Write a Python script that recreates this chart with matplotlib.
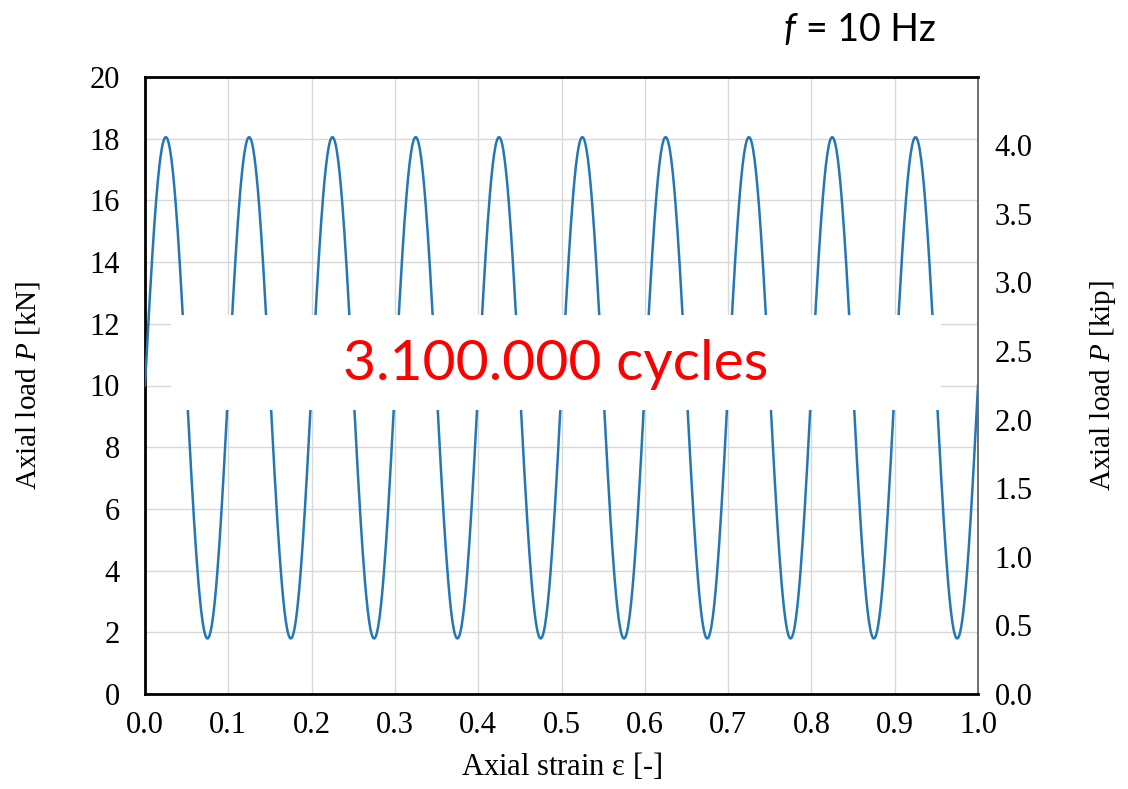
import matplotlib.pyplot as plt
import matplotlib.patches as patches
import numpy as np

# ---- data ----
x_start, y_start = 0.0, 10.0        # curve starts at mid load
x_end, y_end = 1.0, 10.0
peak_strain = [0.025, 0.125, 0.225, 0.325, 0.425, 0.525, 0.625, 0.725, 0.825, 0.925]
peak_load = [18.05, 18.05, 18.05, 18.05, 18.05, 18.05, 18.05, 18.05, 18.05, 18.05]
trough_strain = [0.075, 0.175, 0.275, 0.375, 0.475, 0.575, 0.675, 0.775, 0.875, 0.975]
trough_load = [1.8, 1.8, 1.8, 1.8, 1.8, 1.8, 1.8, 1.8, 1.8, 1.8]

x_ticks = [0.0, 0.1, 0.2, 0.3, 0.4, 0.5, 0.6, 0.7, 0.8, 0.9, 1.0]
y_ticks = [0, 2, 4, 6, 8, 10, 12, 14, 16, 18, 20]
kip_ticks = [0.0, 0.5, 1.0, 1.5, 2.0, 2.5, 3.0, 3.5, 4.0]
KN_PER_KIP = 4.448

serif = 'Liberation Serif'
plt.rcParams['mathtext.fontset'] = 'custom'
plt.rcParams['mathtext.rm'] = serif
plt.rcParams['mathtext.it'] = serif + ':italic'

# extrema in order, joined by half-cosine segments (sinusoidal load)
xs = [x_start]
ys = [y_start]
for a, b, c, d in zip(peak_strain, peak_load, trough_strain, trough_load):
    xs += [a, c]
    ys += [b, d]
xs.append(x_end)
ys.append(y_end)

cx, cy = [], []
for i in range(len(xs) - 1):
    # first / last piece is only a quarter wave
    if i == 0:
        t = np.linspace(0, 1, 40)
        cx.append(xs[0] + (xs[1] - xs[0]) * t)
        cy.append(ys[0] + (ys[1] - ys[0]) * np.sin(t * np.pi / 2))
    elif i == len(xs) - 2:
        t = np.linspace(0, 1, 40)
        cx.append(xs[i] + (xs[i + 1] - xs[i]) * t)
        cy.append(ys[i] + (ys[i + 1] - ys[i]) * (1 - np.cos(t * np.pi / 2)))
    else:
        t = np.linspace(0, 1, 60)
        cx.append(xs[i] + (xs[i + 1] - xs[i]) * t)
        cy.append(ys[i] + (ys[i + 1] - ys[i]) * (1 - np.cos(t * np.pi)) / 2)
cx = np.concatenate(cx)
cy = np.concatenate(cy)

# ---- figure ----
fig = plt.figure(figsize=(11.28, 7.89), dpi=100)
ax = fig.add_axes([145 / 1128, 95 / 789, (978 - 145) / 1128, (694 - 77) / 789])

ax.plot(cx, cy, color='#2477b5', lw=1.8, zorder=3)

ax.set_xlim(0, 1.0)
ax.set_ylim(0, 20)
ax.set_xticks(x_ticks)
ax.set_yticks(y_ticks)
ax.set_xticklabels([f'{v:.1f}' for v in x_ticks], fontfamily=serif, fontsize=22)
ax.set_yticklabels([str(v) for v in y_ticks], fontfamily=serif, fontsize=22)
ax.tick_params(axis='x', length=0, pad=12)
ax.tick_params(axis='y', length=0, pad=18)
ax.grid(True, color='#d8d8d8', lw=1.0)
for s in ax.spines.values():
    s.set_color('black')
    s.set_linewidth(2.0)
ax.spines['right'].set_color('#555555')
ax.spines['right'].set_linewidth(1.2)

ax.set_xlabel(r'Axial strain $\mathregular{\varepsilon}$ [-]', fontfamily=serif, fontsize=22, labelpad=8)
ax.set_ylabel('Axial load $\\mathit{P}$ [kN]', fontfamily=serif, fontsize=21, labelpad=34)

ax2 = ax.twinx()
ax2.set_ylim(0, 20 / KN_PER_KIP)
ax2.set_yticks(kip_ticks)
ax2.set_yticklabels([f'{v:.1f}' for v in kip_ticks], fontfamily=serif, fontsize=22)
ax2.tick_params(length=0, pad=12)
ax2.set_ylabel('Axial load $\\mathit{P}$ [kip]', fontfamily=serif, fontsize=21, labelpad=40)
for s in ax2.spines.values():
    s.set_visible(False)

# white box with cycle count
box = patches.Rectangle((171 / 1128, 1 - 410 / 789), (941 - 171) / 1128, (410 - 315) / 789,
                        transform=fig.transFigure, facecolor='white', edgecolor='none', zorder=5)
fig.patches.append(box)
fig.text(556 / 1128, 1 - 365 / 789, '3.100.000 cycles', color='#ff0000', fontsize=41,
         fontfamily='Lato', ha='center', va='center', zorder=6)

fig.text(783 / 1128, 1 - 30 / 789, 'f', fontsize=27, fontfamily='Lato', fontstyle='italic',
         ha='left', va='center')
fig.text(806 / 1128, 1 - 30 / 789, '= 10 Hz', fontsize=27, fontfamily='Lato',
         ha='left', va='center')

fig.savefig('out.png', dpi=100, facecolor='white')
